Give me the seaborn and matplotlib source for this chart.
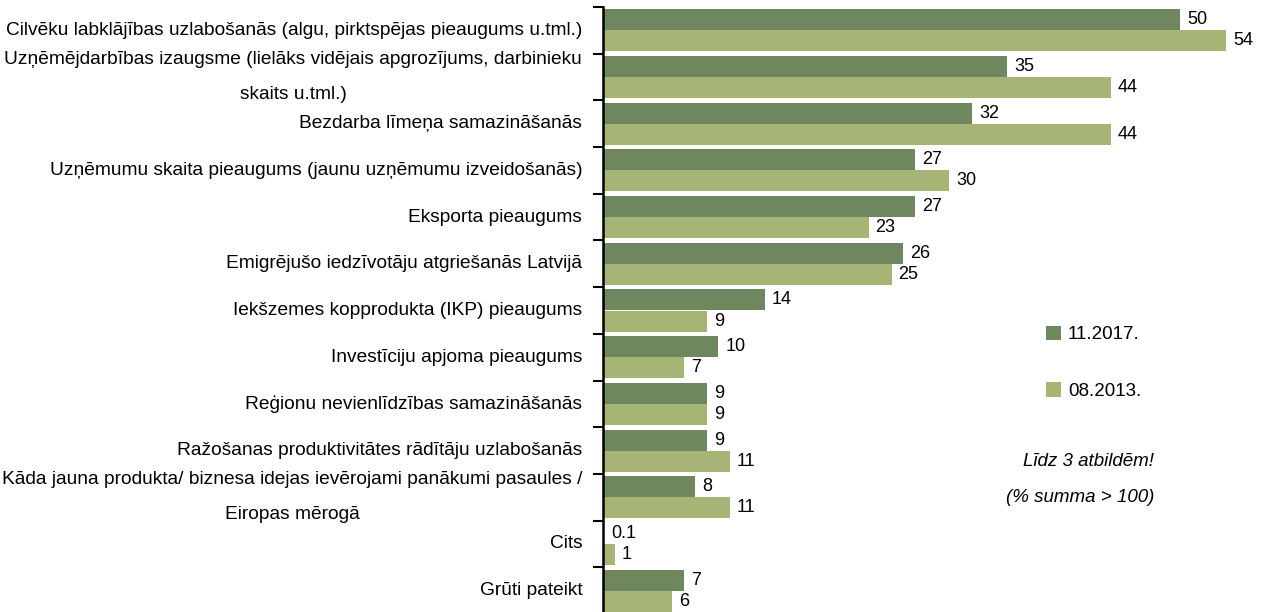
import pandas as pd
import seaborn as sns
import matplotlib.pyplot as plt

categories = [
    "Cilvēku labklājības uzlabošanās (algu, pirktspējas pieaugums u.tml.)",
    "Uzņēmējdarbības izaugsme (lielāks vidējais apgrozījums, darbinieku\nskaits u.tml.)",
    "Bezdarba līmeņa samazināšanās",
    "Uzņēmumu skaita pieaugums (jaunu uzņēmumu izveidošanās)",
    "Eksporta pieaugums",
    "Emigrējušo iedzīvotāju atgriešanās Latvijā",
    "Iekšzemes kopprodukta (IKP) pieaugums",
    "Investīciju apjoma pieaugums",
    "Reģionu nevienlīdzības samazināšanās",
    "Ražošanas produktivitātes rādītāju uzlabošanās",
    "Kāda jauna produkta/ biznesa idejas ievērojami panākumi pasaules /\nEiropas mērogā",
    "Cits",
    "Grūti pateikt",
]
series = ["11.2017.", "08.2013."]
vals_2017 = [50, 35, 32, 27, 27, 26, 14, 10, 9, 9, 8, 0.1, 7]
vals_2013 = [54, 44, 44, 30, 23, 25, 9, 7, 9, 11, 11, 1, 6]

colors = ["#6E875F", "#A6B576"]

df = pd.DataFrame({
    "cat": categories * 2,
    "survey": [series[0]] * len(categories) + [series[1]] * len(categories),
    "val": vals_2017 + vals_2013,
})

sns.set_style("white")
plt.rcParams["font.family"] = ["Liberation Sans", "DejaVu Sans"]
plt.rcParams["text.color"] = "black"
plt.rcParams["ytick.labelcolor"] = "black"

fig = plt.figure(figsize=(12.61, 6.12), dpi=100)
ax = fig.add_axes([603 / 1261, -2 / 612, 1 - 603 / 1261, 1 - 5 / 612])

sns.barplot(data=df, x="val", y="cat", hue="survey", orient="h",
            palette=colors, order=categories, hue_order=series,
            width=0.9, saturation=1, linewidth=0, ax=ax, legend=True)

for cont, vals in zip(ax.containers, [vals_2017, vals_2013]):
    ax.bar_label(cont, labels=[f"{v:g}" for v in vals], padding=5, fontsize=13,
                 color="black")

ax.set_xlim(0, 57)
ax.set_ylim(12.5, -0.5)
ax.set_xlabel("")
ax.set_ylabel("")
ax.set_xticks([])

# category labels, ticks between categories
ax.set_yticks(range(len(categories)))
ax.set_yticklabels(categories, fontsize=13.8, multialignment="center",
                   linespacing=2.35, va="center", color="black")
ax.tick_params(axis="y", which="major", left=False, length=0, pad=15)
ax.set_yticks([i + 0.5 for i in range(-1, len(categories))], minor=True)
ax.tick_params(axis="y", which="minor", left=True, length=7, width=1.5,
               color="black", direction="out")

for s in ["top", "right", "bottom"]:
    ax.spines[s].set_visible(False)
ax.spines["left"].set_color("black")
ax.spines["left"].set_linewidth(1.8)

handles, labels = ax.get_legend_handles_labels()
ax.legend(handles, labels, loc="upper left", bbox_to_anchor=(1038 / 1261, 1 - 318 / 612),
          bbox_transform=fig.transFigure, frameon=False, fontsize=13.5,
          handlelength=0.85, handleheight=0.85, labelspacing=2.05, handletextpad=0.35,
          borderaxespad=0, borderpad=0.4, labelcolor="black")

fig.text(1154 / 1261, 1 - 462 / 612, "Līdz 3 atbildēm!", ha="right", va="center",
         fontsize=13.5, style="italic", color="black")
fig.text(1154 / 1261, 1 - 497 / 612, "(% summa > 100)", ha="right", va="center",
         fontsize=13.5, style="italic", color="black")

fig.savefig("out.png", dpi=100)
